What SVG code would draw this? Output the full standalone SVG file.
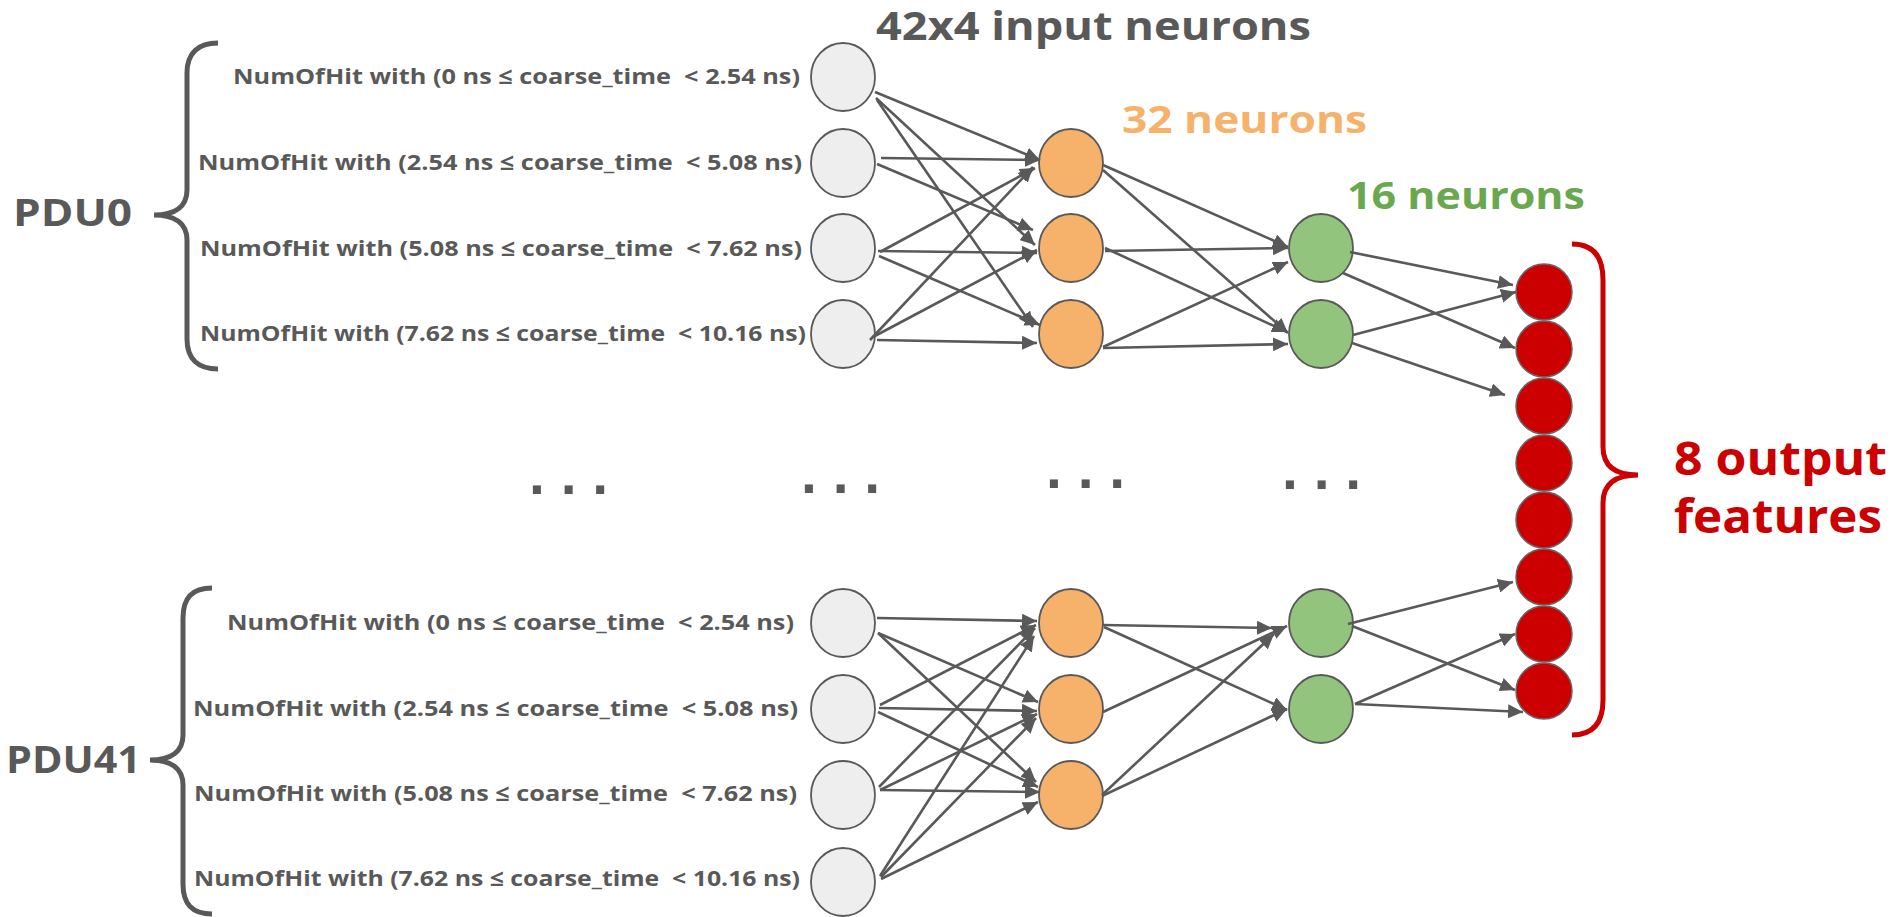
<svg xmlns="http://www.w3.org/2000/svg" width="1895" height="917" viewBox="0 0 1895 917">
<defs>
<style>
.lbl{font-family:"Open Sans","Liberation Sans",sans-serif;font-weight:700;font-size:22px;fill:#595959;white-space:pre}
.ttl{font-family:"Open Sans","Liberation Sans",sans-serif;font-weight:700;}
.in{fill:#eeeeee;stroke:#595959;stroke-width:1.8}
.hid1{fill:#f6b26b;stroke:#595959;stroke-width:1.8}
.hid2{fill:#93c47d;stroke:#595959;stroke-width:1.8}
.out{fill:#cc0000;stroke:#666666;stroke-width:1.5}
.brace{fill:none;stroke:#595959;stroke-width:5;stroke-linecap:butt}
.edge{stroke:#595959;stroke-width:2.6;fill:none;marker-end:url(#ah)}
.dots{font-family:"Liberation Sans",sans-serif;font-weight:700;font-size:57px;fill:#595959;white-space:pre}
</style>
<marker id="ah" markerUnits="userSpaceOnUse" markerWidth="16" markerHeight="14" refX="15" refY="7" orient="auto">
<path d="M0,0 L15,7 L0,14 z" fill="#595959"/>
</marker>
</defs>
<rect width="1895" height="917" fill="#ffffff"/>

<g id="titles">
<text class="ttl" x="876" y="40" font-size="40" fill="#595959" textLength="435" lengthAdjust="spacingAndGlyphs">42x4 input neurons</text>
<text class="ttl" x="1122" y="133" font-size="38" fill="#f6b26b" textLength="245" lengthAdjust="spacingAndGlyphs">32 neurons</text>
<text class="ttl" x="1347" y="209" font-size="37" fill="#6aa84f" textLength="238" lengthAdjust="spacingAndGlyphs">16 neurons</text>
</g>

<g id="pdu0">
<path class="brace" d="M218,43 C198,43 187,53 187,73 L187,190 C187,206 176,215 154,215 C176,215 187,224 187,240 L187,339 C187,359 198,369 218,369"/>
<text class="ttl" x="13" y="226" font-size="37" fill="#595959" textLength="119" lengthAdjust="spacingAndGlyphs">PDU0</text>
</g>
<g id="pdu41">
<path class="brace" d="M212,588 C192,588 183,598 183,618 L183,735 C183,751 172,760 150,760 C172,760 183,769 183,785 L183,884 C183,904 192,914 212,914"/>
<text class="ttl" x="6" y="773" font-size="37" fill="#595959" textLength="135" lengthAdjust="spacingAndGlyphs">PDU41</text>
</g>

<g id="labels">
<text class="lbl" x="800" y="84" text-anchor="end" textLength="567" lengthAdjust="spacingAndGlyphs">NumOfHit with (0 ns ≤ coarse_time  &lt; 2.54 ns)</text>
<text class="lbl" x="802" y="170" text-anchor="end" textLength="604" lengthAdjust="spacingAndGlyphs">NumOfHit with (2.54 ns ≤ coarse_time  &lt; 5.08 ns)</text>
<text class="lbl" x="802" y="256" text-anchor="end" textLength="602" lengthAdjust="spacingAndGlyphs">NumOfHit with (5.08 ns ≤ coarse_time  &lt; 7.62 ns)</text>
<text class="lbl" x="806" y="341" text-anchor="end" textLength="606" lengthAdjust="spacingAndGlyphs">NumOfHit with (7.62 ns ≤ coarse_time  &lt; 10.16 ns)</text>
<text class="lbl" x="794" y="630" text-anchor="end" textLength="567" lengthAdjust="spacingAndGlyphs">NumOfHit with (0 ns ≤ coarse_time  &lt; 2.54 ns)</text>
<text class="lbl" x="798" y="716" text-anchor="end" textLength="605" lengthAdjust="spacingAndGlyphs">NumOfHit with (2.54 ns ≤ coarse_time  &lt; 5.08 ns)</text>
<text class="lbl" x="797" y="801" text-anchor="end" textLength="603" lengthAdjust="spacingAndGlyphs">NumOfHit with (5.08 ns ≤ coarse_time  &lt; 7.62 ns)</text>
<text class="lbl" x="800" y="886" text-anchor="end" textLength="606" lengthAdjust="spacingAndGlyphs">NumOfHit with (7.62 ns ≤ coarse_time  &lt; 10.16 ns)</text>
</g>

<g id="input-top">
<ellipse id="i1" class="in" cx="843" cy="77" rx="32" ry="34"/>
<ellipse id="i2" class="in" cx="843" cy="163" rx="32" ry="34"/>
<ellipse id="i3" class="in" cx="843" cy="248" rx="32" ry="34"/>
<ellipse id="i4" class="in" cx="843" cy="334" rx="32" ry="34"/>
</g>
<g id="input-bottom">
<ellipse id="i5" class="in" cx="843" cy="623" rx="32" ry="34"/>
<ellipse id="i6" class="in" cx="843" cy="709" rx="32" ry="34"/>
<ellipse id="i7" class="in" cx="843" cy="795" rx="32" ry="34"/>
<ellipse id="i8" class="in" cx="843" cy="882" rx="32" ry="34"/>
</g>
<g id="hidden1">
<ellipse id="o1" class="hid1" cx="1071" cy="163" rx="32" ry="34"/>
<ellipse id="o2" class="hid1" cx="1071" cy="248" rx="32" ry="34"/>
<ellipse id="o3" class="hid1" cx="1071" cy="334" rx="32" ry="34"/>
<ellipse id="o4" class="hid1" cx="1071" cy="623" rx="32" ry="34"/>
<ellipse id="o5" class="hid1" cx="1071" cy="709" rx="32" ry="34"/>
<ellipse id="o6" class="hid1" cx="1071" cy="795" rx="32" ry="34"/>
</g>
<g id="hidden2">
<ellipse id="g1" class="hid2" cx="1321" cy="248" rx="32" ry="34"/>
<ellipse id="g2" class="hid2" cx="1321" cy="334" rx="32" ry="34"/>
<ellipse id="g3" class="hid2" cx="1321" cy="623" rx="32" ry="34"/>
<ellipse id="g4" class="hid2" cx="1321" cy="709" rx="32" ry="34"/>
</g>
<g id="outputs">
<circle id="r1" class="out" cx="1544" cy="292" r="28"/>
<circle id="r2" class="out" cx="1544" cy="349" r="28"/>
<circle id="r3" class="out" cx="1544" cy="406" r="28"/>
<circle id="r4" class="out" cx="1544" cy="463" r="28"/>
<circle id="r5" class="out" cx="1544" cy="520" r="28"/>
<circle id="r6" class="out" cx="1544" cy="577" r="28"/>
<circle id="r7" class="out" cx="1544" cy="634" r="28"/>
<circle id="r8" class="out" cx="1544" cy="691" r="28"/>
</g>

<g id="output-label">
<path d="M1572,244 C1592,244 1603,255 1603,280 L1603,447 C1603,465 1614,475 1638,475 C1614,475 1603,485 1603,503 L1603,700 C1603,724 1592,735 1572,735" fill="none" stroke="#cc0000" stroke-width="5"/>
<text class="ttl" x="1674" y="475" font-size="46" fill="#cc0000" textLength="213" lengthAdjust="spacingAndGlyphs">8 output</text>
<text class="ttl" x="1674" y="533" font-size="46" fill="#cc0000" textLength="208" lengthAdjust="spacingAndGlyphs">features</text>
</g>

<g id="ellipsis">
<text class="dots" x="529" y="494">. . .</text>
<text class="dots" x="801" y="493">. . .</text>
<text class="dots" x="1046" y="488">. . .</text>
<text class="dots" x="1282" y="489">. . .</text>
</g>

<g id="connectors">
<line class="edge" x1="875" y1="92" x2="1040" y2="160"/>
<line class="edge" x1="876" y1="98" x2="1035" y2="245"/>
<line class="edge" x1="877" y1="100" x2="1033" y2="327"/>
<line class="edge" x1="881" y1="158" x2="1040" y2="160"/>
<line class="edge" x1="877" y1="164" x2="1033" y2="230"/>
<line class="edge" x1="880" y1="252" x2="1035" y2="168"/>
<line class="edge" x1="878" y1="251" x2="1037" y2="253"/>
<line class="edge" x1="879" y1="256" x2="1040" y2="325"/>
<line class="edge" x1="870" y1="340" x2="1033" y2="167"/>
<line class="edge" x1="873" y1="337" x2="1037" y2="250"/>
<line class="edge" x1="877" y1="340" x2="1037" y2="343"/>

<line class="edge" x1="877" y1="618" x2="1037" y2="621"/>
<line class="edge" x1="878" y1="633" x2="1038" y2="702"/>
<line class="edge" x1="878" y1="633" x2="1036" y2="782"/>
<line class="edge" x1="880" y1="705" x2="1036" y2="625"/>
<line class="edge" x1="879" y1="708" x2="1037" y2="711"/>
<line class="edge" x1="878" y1="712" x2="1038" y2="787"/>
<line class="edge" x1="879" y1="787" x2="1035" y2="628"/>
<line class="edge" x1="880" y1="790" x2="1037" y2="714"/>
<line class="edge" x1="880" y1="790" x2="1040" y2="792"/>
<line class="edge" x1="880" y1="876" x2="1034" y2="636"/>
<line class="edge" x1="881" y1="877" x2="1036" y2="718"/>
<line class="edge" x1="881" y1="879" x2="1038" y2="802"/>

<line class="edge" x1="1103" y1="165" x2="1288" y2="247"/>
<line class="edge" x1="1103" y1="170" x2="1288" y2="333"/>
<line class="edge" x1="1105" y1="251" x2="1288" y2="248"/>
<line class="edge" x1="1105" y1="248" x2="1287" y2="332"/>
<line class="edge" x1="1103" y1="347" x2="1288" y2="262"/>
<line class="edge" x1="1103" y1="348" x2="1288" y2="344"/>

<line class="edge" x1="1103" y1="625" x2="1272" y2="628"/>
<line class="edge" x1="1104" y1="627" x2="1287" y2="710"/>
<line class="edge" x1="1103" y1="712" x2="1287" y2="626"/>
<line class="edge" x1="1102" y1="795" x2="1274" y2="634"/>
<line class="edge" x1="1102" y1="796" x2="1287" y2="709"/>

<line class="edge" x1="1350" y1="252" x2="1513" y2="285"/>
<line class="edge" x1="1343" y1="273" x2="1515" y2="348"/>
<line class="edge" x1="1353" y1="335" x2="1516" y2="292"/>
<line class="edge" x1="1352" y1="343" x2="1505" y2="395"/>

<line class="edge" x1="1348" y1="624" x2="1513" y2="582"/>
<line class="edge" x1="1352" y1="626" x2="1515" y2="690"/>
<line class="edge" x1="1355" y1="704" x2="1515" y2="634"/>
<line class="edge" x1="1355" y1="704" x2="1523" y2="712"/>
</g>
</svg>
